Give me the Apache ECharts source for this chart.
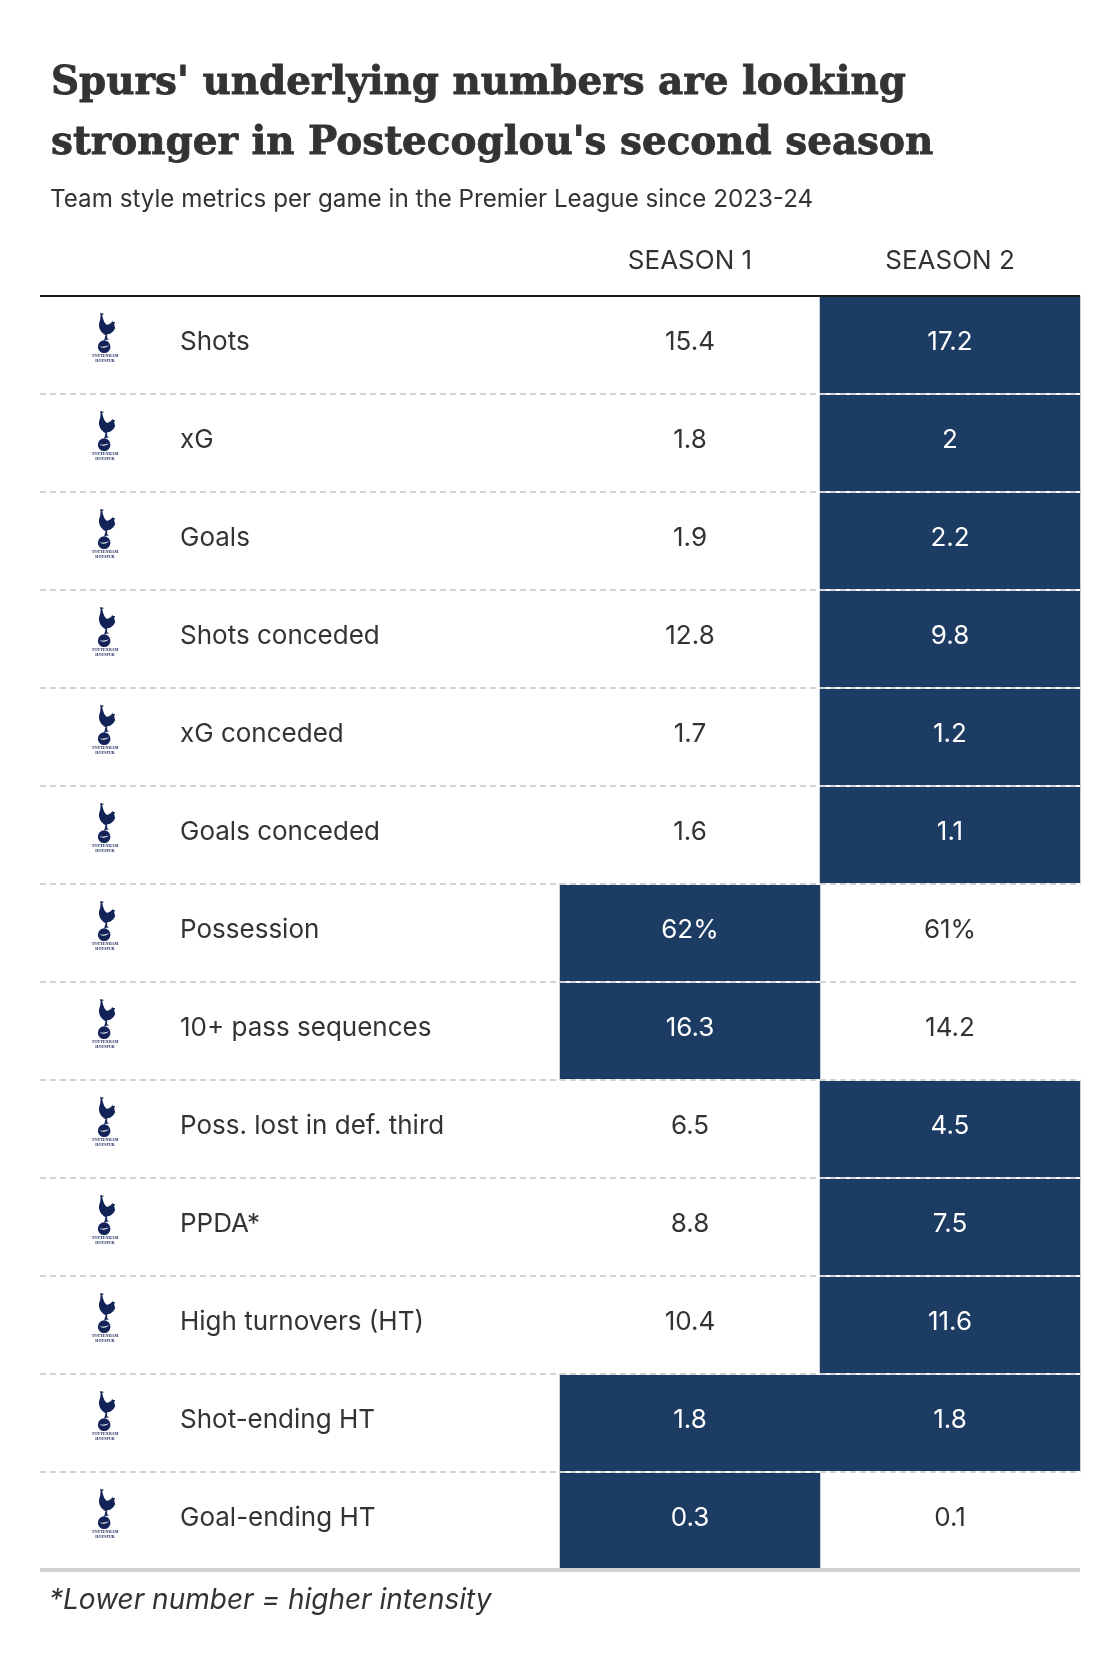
<!DOCTYPE html>
<html>
<head>
<meta charset="utf-8">
<title>Spurs underlying numbers</title>
<script src="https://cdn.jsdelivr.net/npm/echarts@6/dist/echarts.min.js"></script>
<style>
    html, body { margin: 0; padding: 0; background: #fff; }
    #chart { width: 1120px; height: 1660px; }
</style>
</head>
<body>
<div id="chart"></div>
<script>
// table data
var metrics = ['Shots', 'xG', 'Goals', 'Shots conceded', 'xG conceded', 'Goals conceded', 'Possession',
    '10+ pass sequences', 'Poss. lost in def. third', 'PPDA*', 'High turnovers (HT)', 'Shot-ending HT', 'Goal-ending HT'];
var seasons = ['SEASON 1', 'SEASON 2'];
var season1 = ['15.4', '1.8', '1.9', '12.8', '1.7', '1.6', '62%', '16.3', '6.5', '8.8', '10.4', '1.8', '0.3'];
var season2 = ['17.2', '2', '2.2', '9.8', '1.2', '1.1', '61%', '14.2', '4.5', '7.5', '11.6', '1.8', '0.1'];
// 1 = the better season, gets the dark cell
var season1Best = [0, 0, 0, 0, 0, 0, 1, 1, 0, 0, 0, 1, 1];
var season2Best = [1, 1, 1, 1, 1, 1, 0, 0, 1, 1, 1, 1, 0];

var BODY_FONT = 'Inter';
var TEXT_COLOR = '#333333';
var DARK = '#1d3c63';
var BADGE = '#132257';

// badge drawn as one path: cockerel + ball
var badgePath = 'path://M7 0L11 1L9 2L10 6C11 9 12 11 14 12L18 10L19 8L20 9L22 9L21 11L22 15C20 19 17 21 14 21' +
    'L14 25L16 26L11 27L12.5 22C8 20 5 15 6 10C7 7 8 4 7 0Z' +
    'M4.7 33.3A6.3 6.3 0 1 1 17.3 33.3A6.3 6.3 0 1 1 4.7 33.3Z' +
    'M6 33C9 35 13 35 16 32C13 33 10 34 6 33Z';

var cells = [];
var badges = [];
for (var i = 0; i < metrics.length; i++) {
    cells.push(makeCell(0, i, season1Best[i]));
    cells.push(makeCell(1, i, season2Best[i]));
    badges.push([0.0625, metrics[i]]);
}

function makeCell(col, row, best) {
    return {
        value: [col, row, best],
        itemStyle: { color: best ? DARK : 'rgba(0,0,0,0)' },
        label: { color: best ? '#ffffff' : TEXT_COLOR }
    };
}

var myChart = echarts.init(document.getElementById('chart'), null, { renderer: 'canvas' });
var option = {
    backgroundColor: '#ffffff',
    animation: false,
    title: [
        {
            text: "Spurs' underlying numbers are looking\nstronger in Postecoglou's second season",
            left: 46, top: 49,
            textStyle: {
                fontFamily: 'DejaVu Serif', fontWeight: 'bold', fontSize: 38.9, lineHeight: 60, color: TEXT_COLOR,
                textBorderColor: TEXT_COLOR, textBorderWidth: 0.8
            }
        },
        {
            text: 'Team style metrics per game in the Premier League since 2023-24',
            left: 45, top: 183,
            textStyle: { fontFamily: BODY_FONT, fontWeight: 'normal', fontSize: 24.2, color: TEXT_COLOR }
        },
        {
            text: '*Lower number = higher intensity',
            left: 44, top: 1582,
            textStyle: { fontFamily: BODY_FONT, fontWeight: 'normal', fontStyle: 'italic', fontSize: 28, color: TEXT_COLOR }
        }
    ],
    grid: [
        { left: 40, top: 296, width: 1040, height: 1274 },
        { left: 560, top: 296, width: 520, height: 1274 }
    ],
    xAxis: [
        // full-width axis, top and bottom rules
        {
            gridIndex: 0, type: 'value', min: 0, max: 1, position: 'top',
            axisLine: { show: true, onZero: false, lineStyle: { color: '#1a1a1a', width: 2, cap: 'butt' } },
            axisTick: { show: false }, axisLabel: { show: false }, splitLine: { show: false }, z: 6
        },
        {
            gridIndex: 0, type: 'value', min: 0, max: 1, position: 'bottom',
            axisLine: { show: true, onZero: false, lineStyle: { color: '#d2d2d2', width: 4, cap: 'butt' } },
            axisTick: { show: false }, axisLabel: { show: false }, splitLine: { show: false }, z: 6
        },
        {
            gridIndex: 1, type: 'category', data: seasons, position: 'top',
            axisLine: { show: false }, axisTick: { show: false },
            axisLabel: { fontFamily: BODY_FONT, fontSize: 26, color: TEXT_COLOR, margin: 22 }
        }
    ],
    yAxis: [
        {
            gridIndex: 0, type: 'category', data: metrics, inverse: true,
            axisLine: { show: false }, axisTick: { show: false },
            axisLabel: {
                // bottom aligned with a short line box: lifts the names 3px like the values
                inside: true, margin: 140, align: 'left', verticalAlign: 'bottom', lineHeight: 6,
                fontFamily: BODY_FONT, fontSize: 26, color: TEXT_COLOR
            },
            splitLine: { show: true, lineStyle: { color: '#d2d2d2', width: 2, type: [6, 4] } },
            z: 5
        },
        {
            // white gap between the dark cells, dashes sit on top of it
            gridIndex: 1, type: 'category', data: metrics, inverse: true,
            axisLine: { show: false }, axisTick: { show: false }, axisLabel: { show: false },
            splitLine: { show: true, lineStyle: { color: '#ffffff', width: 2 } },
            z: 4
        }
    ],
    series: [
        {
            type: 'heatmap',
            xAxisIndex: 2,
            yAxisIndex: 1,
            data: cells,
            z: 2,
            emphasis: { disabled: true },
            label: {
                show: true,
                fontFamily: BODY_FONT,
                fontSize: 26,
                offset: [0, -3],
                formatter: function (p) {
                    return (p.value[0] === 0 ? season1 : season2)[p.value[1]];
                }
            }
        },
        {
            type: 'scatter',
            xAxisIndex: 0,
            yAxisIndex: 0,
            data: badges,
            symbol: badgePath,
            symbolSize: [17.3, 40],
            symbolOffset: [1.5, -12],
            itemStyle: { color: BADGE, opacity: 1 },
            silent: true,
            z: 7,
            label: {
                show: true,
                position: 'bottom',
                distance: 0,
                offset: [-1.5, 0],
                formatter: 'TOTTENHAM\nHOTSPUR',
                fontFamily: 'Liberation Serif',
                fontWeight: 'bold',
                fontSize: 4,
                lineHeight: 5,
                color: BADGE
            }
        }
    ]
};
myChart.setOption(option);
</script>
</body>
</html>
